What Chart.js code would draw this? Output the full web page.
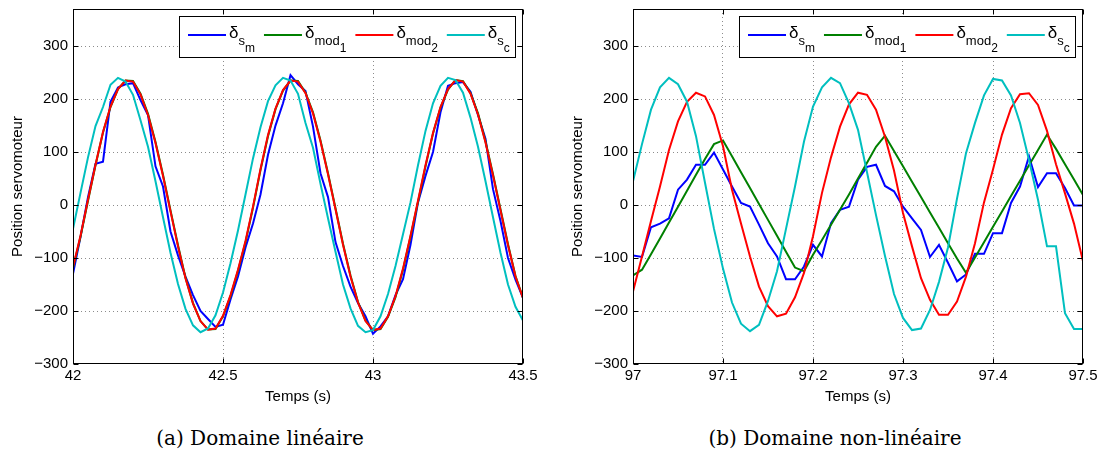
<!DOCTYPE html>
<html>
<head>
<meta charset="utf-8">
<script src="https://cdn.jsdelivr.net/npm/chart.js@4.4.0/dist/chart.umd.min.js"></script>
<style>
    body { margin: 0; background: #fff; width: 1104px; height: 458px; position: relative; overflow: hidden; }
    .panel { position: absolute; top: 0; width: 552px; height: 410px; }
    .caption { position: absolute; top: 426px; line-height: 24px; font-family: 'DejaVu Serif', serif; font-size: 20px;
               color: #000; white-space: nowrap; transform: translateX(-50%); }
</style>
</head>
<body>
<div class="panel" style="left:0"><canvas id="chart-left" width="552" height="410"></canvas></div>
<div class="panel" style="left:552px"><canvas id="chart-right" width="552" height="410"></canvas></div>
<div class="caption" style="left:260px">(a) Domaine linéaire</div>
<div class="caption" style="left:835px">(b) Domaine non-linéaire</div>
<script>
// (a) linear domain, sampled every 25 ms
const leftTime = [42.000, 42.025, 42.050, 42.075, 42.100, 42.125, 42.150, 42.175, 42.200, 42.225, 42.250,
    42.275, 42.300, 42.325, 42.350, 42.375, 42.400, 42.425, 42.450, 42.475, 42.500, 42.525, 42.550, 42.575,
    42.600, 42.625, 42.650, 42.675, 42.700, 42.725, 42.750, 42.775, 42.800, 42.825, 42.850, 42.875, 42.900,
    42.925, 42.950, 42.975, 43.000, 43.025, 43.050, 43.075, 43.100, 43.125, 43.150, 43.175, 43.200, 43.225,
    43.250, 43.275, 43.300, 43.325, 43.350, 43.375, 43.400, 43.425, 43.450, 43.475, 43.500];
const leftSm = [-130, -60, 15, 78, 82, 195, 222, 228, 230, 198, 170,
    73, 35, -50, -95, -135, -170, -200, -215, -230, -226, -178,
    -135, -80, -35, 20, 95, 150, 192, 245, 228, 215, 148,
    60, 15, -70, -115, -154, -185, -210, -243, -229, -210, -170,
    -140, -75, 5, 55, 100, 175, 225, 230, 232, 214, 170,
    125, 30, -30, -100, -141, -175];
const leftMod1 = [-119, -60, 8, 75, 137, 185, 219, 235, 234, 210, 172, 119, 57, -10, -76, -137, -185, -219, -235, -234, -210, -172,
    -124, -70, -5, 66, 130, 181, 216, 235, 234, 212, 175, 122, 60, -6, -73, -133, -183, -218, -236, -234, -211, -174,
    -122, -60, 6, 73, 135, 184, 218, 236, 234, 211, 173, 120, 58, -8, -74, -134, -175];
const leftMod2 = [-117, -58, 10, 76, 138, 186, 219, 235, 233, 209, 170, 117, 55, -12, -78, -138, -186, -219, -235, -233, -209, -170,
    -122, -68, -3, 68, 132, 182, 217, 235, 233, 211, 173, 120, 58, -8, -75, -135, -184, -219, -236, -233, -210, -172,
    -120, -58, 8, 75, 136, 185, 219, 236, 233, 210, 171, 118, 56, -10, -76, -135, -176];
const leftSc = [-45, 23, 90, 149, 185, 227, 240, 233, 208, 160, 110, 45, -23, -90, -149, -196, -227, -240, -233, -208, -165, -110,
    -48, 20, 88, 147, 196, 226, 240, 235, 210, 155, 108, 40, -25, -88, -150, -195, -228, -240, -236, -210, -168, -115,
    -55, 5, 75, 140, 192, 225, 240, 236, 212, 165, 110, 45, -23, -90, -150, -192, -218];

// (b) non-linear domain, sampled every 10 ms
const rightTime = [97.00, 97.01, 97.02, 97.03, 97.04, 97.05, 97.06, 97.07, 97.08, 97.09, 97.10,
    97.11, 97.12, 97.13, 97.14, 97.15, 97.16, 97.17, 97.18, 97.19, 97.20,
    97.21, 97.22, 97.23, 97.24, 97.25, 97.26, 97.27, 97.28, 97.29, 97.30,
    97.31, 97.32, 97.33, 97.34, 97.35, 97.36, 97.37, 97.38, 97.39, 97.40,
    97.41, 97.42, 97.43, 97.44, 97.45, 97.46, 97.47, 97.48, 97.49, 97.50];
const rightSm = [-95, -98, -42, -35, -25, 29, 48, 76, 76, 99, 67,
    35, 4, -3, -37, -72, -97, -140, -140, -116, -75,
    -97, -34, -9, -3, 48, 72, 76, 36, 26, -3,
    -25, -47, -98, -75, -109, -144, -131, -92, -92, -53,
    -53, 4, 35, 92, 34, 60, 60, 32, -1, -1];
const rightMod1 = [-133, -122, -93, -63, -33, -3, 27, 57, 87, 115, 122,
    92, 62, 32, 2, -28, -58, -88, -118, -125, -94,
    -66, -37, -9, 20, 50, 80, 110, 131, 102, 73,
    44, 15, -14, -43, -72, -101, -128, -99, -70, -41,
    -12, 17, 46, 75, 104, 133, 106, 77, 48, 19];
const rightMod2 = [-163, -97, -30, 35, 104, 158, 195, 212, 205, 170, 111,
    29, -35, -97, -154, -191, -210, -205, -174, -128, -59,
    23, 90, 148, 190, 212, 208, 180, 129, 65, -15,
    -78, -138, -179, -207, -207, -182, -135, -72, 5, 67,
    133, 183, 209, 211, 189, 140, 77, 22, -35, -106];
const rightSc = [45, 115, 180, 222, 240, 228, 195, 130, 42, -45, -120,
    -184, -224, -238, -226, -181, -125, -45, 35, 120, 186,
    222, 240, 230, 192, 142, 62, -19, -96, -168, -213,
    -236, -233, -198, -145, -80, 12, 98, 155, 207, 238,
    235, 207, 155, 85, 10, -78, -78, -204, -234, -234];

const leftXTicks = [42, 42.5, 43, 43.5];
const leftXLabels = ['42', '42.5', '43', '43.5'];
const rightXTicks = [97, 97.1, 97.2, 97.3, 97.4, 97.5];
const rightXLabels = ['97', '97.1', '97.2', '97.3', '97.4', '97.5'];
const yTicks = [-300, -200, -100, 0, 100, 200, 300];
const yLabels = ['\u2212300', '\u2212200', '\u2212100', '0', '100', '200', '300'];

const seriesColors = ['#0000ff', '#008000', '#ff0000', '#00bfbf'];
const legendMain = ['\u03b4', '\u03b4', '\u03b4', '\u03b4'];
const legendSub = ['s', 'mod', 'mod', 's'];
const legendSubSub = ['m', '1', '2', 'c'];

const axisFont = { family: 'Liberation Sans', size: 15 };
const gridColor = '#8c8c8c';

// black box round the plot with inward tick marks, like the original figure
const boxPlugin = {
    id: 'boxPlugin',
    afterDatasetsDraw(chart) {
        const { ctx, chartArea: a, scales: { x, y } } = chart;
        const L = Math.round(a.left) + 0.5, R = Math.round(a.right) - 0.5;
        const T = Math.round(a.top) + 0.5, B = Math.round(a.bottom) - 0.5;
        ctx.save();
        ctx.strokeStyle = '#000';
        ctx.lineWidth = 1;
        ctx.beginPath();
        x.ticks.forEach(t => {
            const px = Math.round(x.getPixelForValue(t.value)) + 0.5;
            ctx.moveTo(px, B); ctx.lineTo(px, B - 5);
            ctx.moveTo(px, T); ctx.lineTo(px, T + 5);
        });
        y.ticks.forEach(t => {
            const py = Math.round(y.getPixelForValue(t.value)) + 0.5;
            ctx.moveTo(L, py); ctx.lineTo(L + 5, py);
            ctx.moveTo(R, py); ctx.lineTo(R - 5, py);
        });
        ctx.stroke();
        ctx.strokeRect(L, T, R - L, B - T);
        ctx.restore();
    }
};

// legend with subscripts (delta_s_m etc.), top right inside the axes
const legendPlugin = {
    id: 'legendPlugin',
    afterDraw(chart) {
        const { ctx, chartArea: a } = chart;
        const mainFont = '17px "Liberation Sans"';
        const subFont = '13px "Liberation Sans"';
        const subSubFont = '12px "Liberation Sans"';
        ctx.save();
        const widths = legendMain.map((m, i) => {
            ctx.font = mainFont; const wm = ctx.measureText(m).width;
            ctx.font = subFont; const ws = ctx.measureText(legendSub[i]).width;
            ctx.font = subSubFont; const wss = ctx.measureText(legendSubSub[i]).width;
            return { wm, ws, wss, total: 38 + 3 + wm + ws + wss };
        });
        const boxW = 9 + widths.reduce((s, w) => s + w.total, 0) + 9 * (widths.length - 1) + 6;
        const boxH = 41;
        const right = Math.round(a.right) - 7;
        const left = right - Math.round(boxW);
        const top = Math.round(a.top) + 7;

        ctx.fillStyle = '#fff';
        ctx.fillRect(left, top, right - left, boxH);
        ctx.strokeStyle = '#000';
        ctx.lineWidth = 1;
        ctx.strokeRect(left + 0.5, top + 0.5, right - left - 1, boxH);

        let cx = left + 9;
        ctx.textBaseline = 'alphabetic';
        ctx.textAlign = 'left';
        legendMain.forEach((m, i) => {
            const w = widths[i];
            ctx.strokeStyle = seriesColors[i];
            ctx.lineWidth = 2;
            ctx.beginPath();
            ctx.moveTo(cx, top + 19);
            ctx.lineTo(cx + 38, top + 19);
            ctx.stroke();
            let tx = cx + 41;
            ctx.fillStyle = '#000';
            ctx.font = mainFont;
            ctx.fillText(m, tx, top + 22);
            tx += w.wm;
            ctx.font = subFont;
            ctx.fillText(legendSub[i], tx, top + 28.5);
            tx += w.ws;
            ctx.font = subSubFont;
            ctx.fillText(legendSubSub[i], tx, top + 36);
            cx += w.total + 9;
        });
        ctx.restore();
    }
};

function hideEdge(min, max) {
    return c => (c.tick && (c.tick.value === min || c.tick.value === max)) ? 'rgba(0,0,0,0)' : gridColor;
}

function makeChart(canvasId, time, series, xMin, xMax, xTicks, xLabels, padLeft, padRight) {
    const datasets = series.map((values, i) => ({
        data: time.map((t, k) => ({ x: t, y: values[k] })),
        borderColor: seriesColors[i],
        borderWidth: 2,
        pointRadius: 0,
        fill: false,
        tension: 0,
        order: 4 - i
    }));

    return new Chart(document.getElementById(canvasId), {
        type: 'line',
        data: { datasets },
        options: {
            responsive: false,
            animation: false,
            devicePixelRatio: 1,
            events: [],
            layout: { padding: { left: padLeft, right: padRight, top: 9, bottom: 0 } },
            plugins: { legend: { display: false }, tooltip: { enabled: false } },
            scales: {
                x: {
                    type: 'linear',
                    min: xMin,
                    max: xMax,
                    afterBuildTicks: s => { s.ticks = xTicks.map(v => ({ value: v })); },
                    afterFit: s => {
                        s.height = 46;
                        s.paddingLeft = 0; s.paddingRight = 0; s.paddingTop = 0; s.paddingBottom = 0;
                    },
                    ticks: { callback: (v, i) => xLabels[i], padding: 3, maxRotation: 0, autoSkip: false, color: '#000', font: axisFont },
                    grid: { drawTicks: false, color: hideEdge(xMin, xMax) },
                    border: { display: false, dash: [1, 3] },
                    title: { display: true, text: 'Temps (s)', color: '#000', font: axisFont, padding: { top: 0, bottom: 4 } }
                },
                y: {
                    type: 'linear',
                    min: -300,
                    max: 370,
                    afterBuildTicks: s => { s.ticks = yTicks.map(v => ({ value: v })); },
                    afterFit: s => {
                        s.width = 68;
                        s.paddingLeft = 0; s.paddingRight = 0; s.paddingTop = 0; s.paddingBottom = 0;
                    },
                    ticks: { callback: (v, i) => yLabels[i], padding: 5, autoSkip: false, color: '#000', font: axisFont },
                    grid: { drawTicks: false, color: hideEdge(-300, 370) },
                    border: { display: false, dash: [1, 3] },
                    title: { display: true, text: 'Position servomoteur', color: '#000', font: axisFont, padding: { top: 4, bottom: 0 } }
                }
            }
        },
        plugins: [boxPlugin, legendPlugin]
    });
}

makeChart('chart-left', leftTime, [leftSm, leftMod1, leftMod2, leftSc], 42, 43.5, leftXTicks, leftXLabels, 5, 29);
makeChart('chart-right', rightTime, [rightSm, rightMod1, rightMod2, rightSc], 97, 97.5, rightXTicks, rightXLabels, 13, 21);
</script>
</body>
</html>
